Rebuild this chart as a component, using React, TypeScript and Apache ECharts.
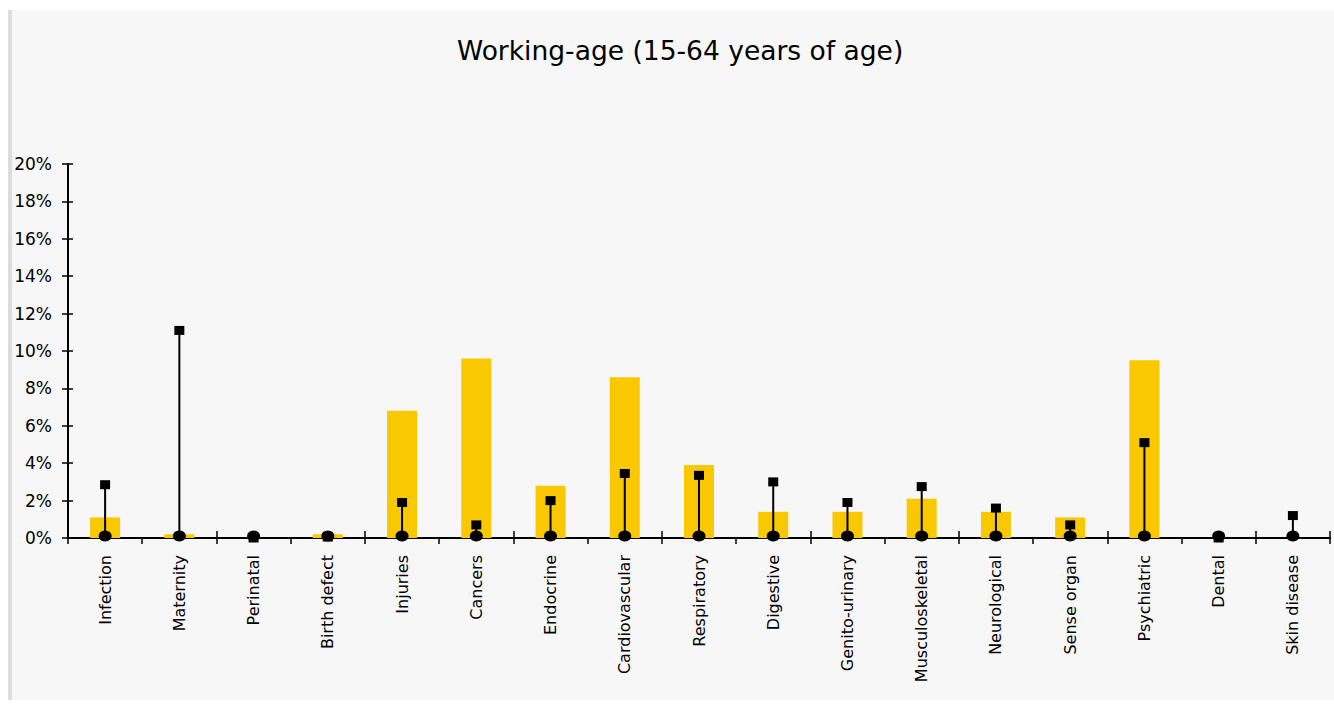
import React, { useEffect, useRef } from "react";
import * as echarts from "echarts";

const categories = [
  "Infection",
  "Maternity",
  "Perinatal",
  "Birth defect",
  "Injuries",
  "Cancers",
  "Endocrine",
  "Cardiovascular",
  "Respiratory",
  "Digestive",
  "Genito-urinary",
  "Musculoskeletal",
  "Neurological",
  "Sense organ",
  "Psychiatric",
  "Dental",
  "Skin disease",
];

// yellow bars (%)
const barValues = [1.1, 0.2, 0, 0.2, 6.8, 9.6, 2.8, 8.6, 3.9, 1.4, 1.4, 2.1, 1.4, 1.1, 9.5, 0, 0];
// black squares (%)
const squareValues = [2.85, 11.1, 0, 0.05, 1.9, 0.7, 2.0, 3.45, 3.35, 3.0, 1.9, 2.75, 1.6, 0.7, 5.1, 0, 1.2];
// black circles (%)
const circleValues = [0, 0, 0, 0, 0, 0, 0, 0, 0, 0, 0, 0, 0, 0, 0, 0, 0];

const yTicks = { min: 0, max: 20, interval: 2 };
const titleText = "Working-age (15-64 years of age)";

const FONT = "DejaVu Sans";

export default function App() {
  const ref = useRef<HTMLDivElement>(null);

  useEffect(() => {
    if (!ref.current) return;
    const chart = echarts.init(ref.current, undefined, { renderer: "svg" });
    const yBase = {
      type: "value",
      min: yTicks.min,
      max: yTicks.max,
      interval: yTicks.interval,
      splitLine: { show: false },
    };
    chart.setOption({
      animation: false,
      backgroundColor: "transparent",
      title: {
        text: titleText,
        left: 457,
        top: 37,
        padding: 0,
        textStyle: { fontFamily: FONT, fontSize: 26.5, fontWeight: "normal", color: "#000" },
      },
      grid: { left: 68, right: 4, top: 164, bottom: 173, containLabel: false },
      xAxis: [
        {
          type: "category",
          data: categories,
          boundaryGap: true,
          axisLine: { show: true, lineStyle: { color: "#000", width: 2 } },
          axisTick: { show: true, inside: false, length: 6, alignWithLabel: false, lineStyle: { color: "#000", width: 1.5 } },
          axisLabel: {
            interval: 0,
            rotate: 90,
            margin: 17,
            fontFamily: FONT,
            fontSize: 16,
            color: "#000",
          },
          splitLine: { show: false },
        },
        {
          type: "category",
          data: categories,
          position: "bottom",
          boundaryGap: true,
          axisLine: { show: false },
          axisTick: { show: true, inside: true, length: 7, lineStyle: { color: "#000", width: 1.5 } },
          axisLabel: { show: false },
          splitLine: { show: false },
        },
      ],
      yAxis: [
        {
          ...yBase,
          position: "left",
          axisLine: { show: true, lineStyle: { color: "#000", width: 2 } },
          axisTick: { show: true, inside: false, length: 6, lineStyle: { color: "#000", width: 1.5 } },
          axisLabel: {
            margin: 16,
            fontFamily: FONT,
            fontSize: 17,
            color: "#000",
            formatter: "{value}%",
          },
        },
        {
          ...yBase,
          position: "left",
          axisLine: { show: false },
          axisTick: { show: true, inside: true, length: 5, lineStyle: { color: "#000", width: 1.5 } },
          axisLabel: { show: false },
        },
      ],
      series: [
        {
          type: "bar",
          data: barValues,
          barWidth: 30,
          itemStyle: { color: "#F9C800" },
          z: 1,
        },
        {
          type: "custom",
          data: squareValues.map((v, i) => [i, v]),
          encode: { x: 0, y: 1 },
          z: 2,
          renderItem: (params: any, api: any) => {
            const idx = api.value(0);
            const v = api.value(1);
            const p0 = api.coord([idx, 0]);
            const p1 = api.coord([idx, v]);
            return {
              type: "line",
              shape: { x1: p0[0], y1: p0[1], x2: p1[0], y2: p1[1] },
              style: { stroke: "#000", lineWidth: 2 },
            };
          },
        },
        {
          type: "scatter",
          data: circleValues,
          symbol: "circle",
          symbolSize: [13, 11],
          symbolOffset: [0, -2],
          itemStyle: { color: "#000", opacity: 1 },
          z: 3,
        },
        {
          type: "scatter",
          data: squareValues,
          symbol: "rect",
          symbolSize: [10, 9],
          itemStyle: { color: "#000", opacity: 1 },
          z: 4,
        },
      ],
    });
    return () => chart.dispose();
  }, []);

  return (
    <>
      <div
        style={{
          position: "fixed",
          left: 8,
          top: 10,
          width: 1326,
          height: 690,
          background: "#f7f7f7",
          borderLeft: "4px solid #dcdcdc",
          boxSizing: "border-box",
        }}
      />
      <div
        ref={ref}
        style={{ position: "fixed", left: 0, top: 0, width: 1334, height: 711 }}
      />
    </>
  );
}
